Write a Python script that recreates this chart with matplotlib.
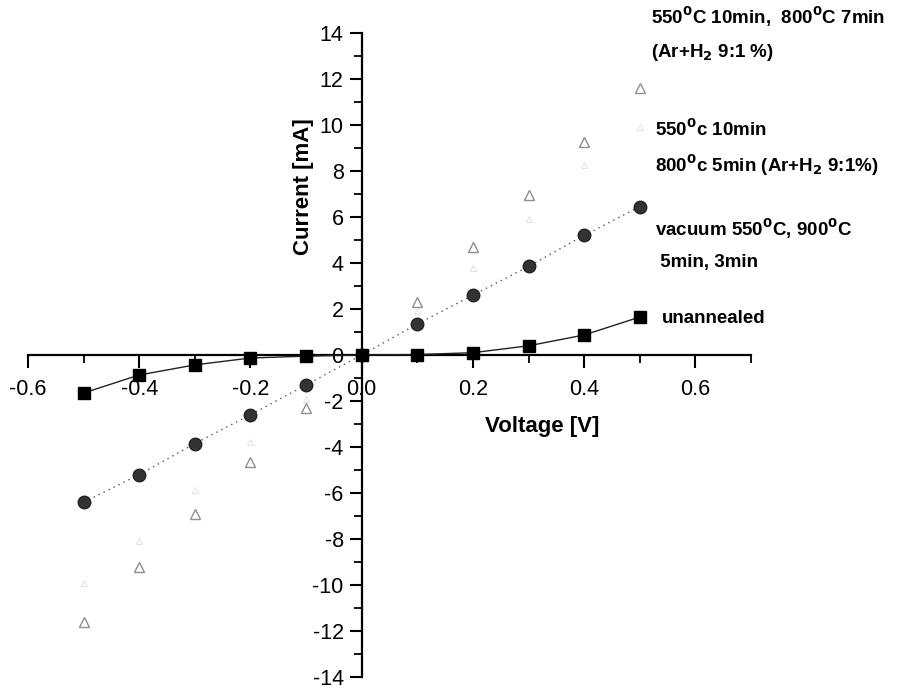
import matplotlib
matplotlib.use("Agg")
import matplotlib.pyplot as plt
from matplotlib.ticker import MultipleLocator, FixedLocator

plt.rcParams['font.family'] = ['Liberation Sans', 'DejaVu Sans']

voltage = [-0.5, -0.4, -0.3, -0.2, -0.1, 0.0, 0.1, 0.2, 0.3, 0.4, 0.5]
unannealed = [-1.65, -0.87, -0.43, -0.13, -0.05, 0.0, 0.02, 0.1, 0.4, 0.87, 1.65]
vacuum = [-6.4, -5.2, -3.85, -2.6, -1.3, 0.0, 1.35, 2.6, 3.85, 5.2, 6.45]
ar_5min = [-9.9, -8.1, -5.85, -3.8, -1.9, 0.0, 1.9, 3.8, 5.9, 8.25, 9.9]
ar_7min = [-11.6, -9.2, -6.9, -4.65, -2.3, 0.0, 2.3, 4.7, 6.95, 9.25, 11.6]

xticks = [-0.6, -0.4, -0.2, 0.0, 0.2, 0.4, 0.6]
xticklabels = ['-0.6', '-0.4', '-0.2', '0.0', '0.2', '0.4', '0.6']
yticks = list(range(-14, 15, 2))

fig = plt.figure(figsize=(9.03, 6.90), dpi=100)
ax = fig.add_axes([28/903, 1-677/690, (751-28)/903, (677-33)/690])
ax.set_xlim(-0.6, 0.7)
ax.set_ylim(-14, 14)

for s in ['top', 'right']:
    ax.spines[s].set_visible(False)
ax.spines['left'].set_position(('data', 0))
ax.spines['bottom'].set_position(('data', 0))
for s in ['left', 'bottom']:
    ax.spines[s].set_linewidth(1.6)
    ax.spines[s].set_color('black')

ax.plot(voltage, ar_7min, linestyle='none',
        marker='^', markersize=7, markerfacecolor='white',
        markeredgecolor='#8f8f8f', markeredgewidth=1.0, zorder=3)
ax.plot(voltage, ar_5min, linestyle='none',
        marker='^', markersize=4, markerfacecolor='white',
        markeredgecolor='#e2e2e2', markeredgewidth=0.7, zorder=3)
ax.plot(voltage, vacuum, linestyle=(0, (1, 3)), color='#555555', lw=1.0,
        marker='o', markersize=9, markerfacecolor='#333333',
        markeredgecolor='#222222', zorder=4)
ax.plot(voltage, unannealed, linestyle='-', color='#222222', lw=1.0,
        marker='s', markersize=8, markerfacecolor='black',
        markeredgecolor='black', zorder=5)

ax.xaxis.set_major_locator(FixedLocator(xticks))
ax.set_xticklabels(xticklabels)
ax.xaxis.set_minor_locator(MultipleLocator(0.1))
ax.yaxis.set_major_locator(FixedLocator(yticks))
ax.set_yticklabels([str(v) for v in yticks])
ax.yaxis.set_minor_locator(MultipleLocator(1))
ax.tick_params(axis='both', which='major', direction='out', length=9,
               width=1.5, labelsize=15.5)
ax.tick_params(axis='x', which='major', pad=8)
ax.tick_params(axis='y', which='major', pad=4)
ax.tick_params(axis='both', which='minor', direction='out', length=6, width=1.3)

ax.text(0.325, -3.1, 'Voltage [V]', fontsize=16, fontweight='bold',
        ha='center', va='center')
ax.text(-0.105, 7.3, 'Current [mA]', fontsize=16, fontweight='bold',
        rotation=90, ha='center', va='center')

tk = dict(fontsize=13.5, fontweight='bold', ha='left', va='center')
ax.text(0.52, 14.7, r'550$^{\mathbf{0}}$C 10min,  800$^{\mathbf{0}}$C 7min', **tk)
ax.text(0.52, 13.15, r'(Ar+H$_{\mathbf{2}}$ 9:1 %)', **tk)
ax.text(0.527, 9.8, r'550$^{\mathbf{0}}$c 10min', **tk)
ax.text(0.527, 8.25, r'800$^{\mathbf{0}}$c 5min (Ar+H$_{\mathbf{2}}$ 9:1%)', **tk)
ax.text(0.527, 5.5, r'vacuum 550$^{\mathbf{0}}$C, 900$^{\mathbf{0}}$C', **tk)
ax.text(0.527, 4.0, r' 5min, 3min', **tk)
ax.text(0.54, 1.6, 'unannealed', **tk)

fig.savefig('out.png', dpi=100)
